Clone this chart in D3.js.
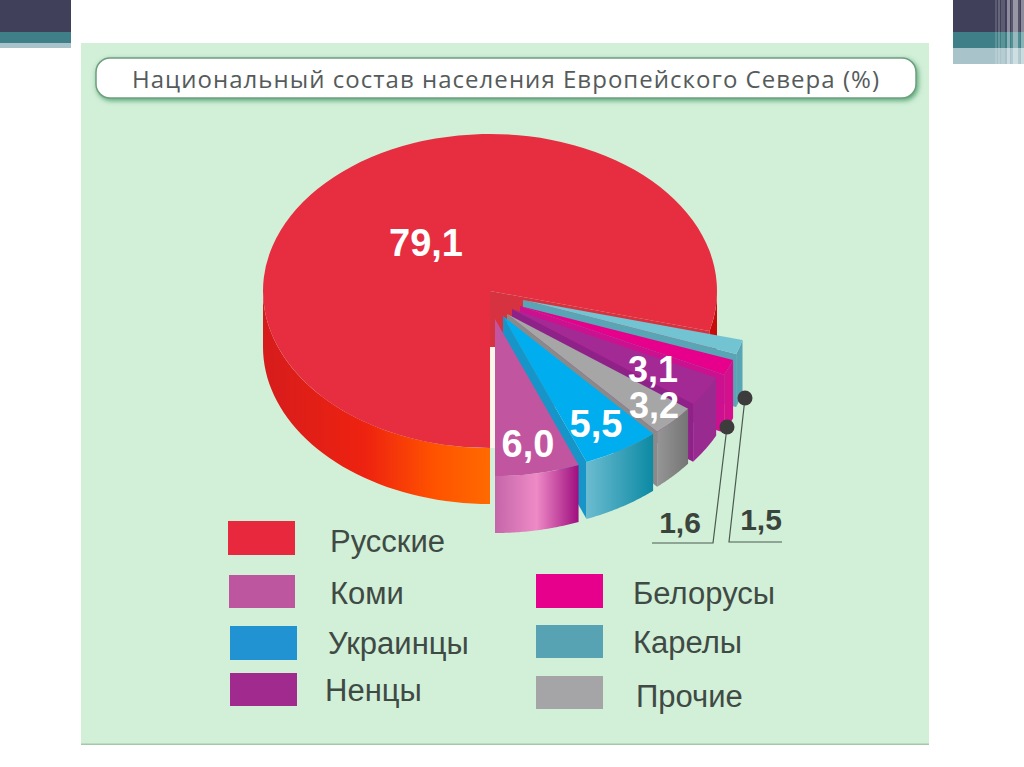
<!DOCTYPE html>
<html><head><meta charset="utf-8">
<script src="https://cdn.jsdelivr.net/npm/d3@7/dist/d3.min.js"></script>
<style>html,body{margin:0;padding:0;background:#fff;overflow:hidden}svg{display:block}</style>
</head><body><svg id="c" width="1024" height="767"></svg>
<script>
const titleText = "Национальный состав населения Европейского Севера (%)";
const categories = ["Русские","Карелы","Белорусы","Ненцы","Прочие","Украинцы","Коми"];
const values = [79.1,1.5,1.6,3.1,3.2,5.5,6.0];
const valueLabels = ["79,1","1,5","1,6","3,1","3,2","5,5","6,0"];

const topColors = ["#e62e40","#72c4d2","#e6008c","#a32a94","#a6a6a6","#00aeef","#c2559f"];
const wallColors = ["#d6323f","#5aa5b5","#cc1090","#8f2288","#8a8a8a","#1795c9","#c2559f"];
const legendColors = {"Русские":"#e8283c","Коми":"#bd559f","Украинцы":"#2293d2","Ненцы":"#a02a8e","Белорусы":"#e6008c","Карелы":"#57a3b4","Прочие":"#a5a5a8"};
// layout: explode offsets of each slice's apex from the pie centre
const explode = [[0,0],[33,9],[30,15],[22,18],[17,23],[13,25],[5,28]];
const depths = [56,53,58,58,55,57,57];
const labelPos = [[426,256,38],[761,530,30],[680,533,30],[653,382,36],[654,418,36],[596,437,38],[528,457,38]];
const legendLayout = [
 {n:"Русские",x:228,y:521,w:67,h:34,tx:330,ty:552},
 {n:"Коми",x:229,y:575,w:66,h:33,tx:330,ty:604},
 {n:"Украинцы",x:230,y:626,w:67,h:34,tx:328,ty:654},
 {n:"Ненцы",x:230,y:673,w:67,h:33,tx:325,ty:701},
 {n:"Белорусы",x:536,y:574,w:67,h:34,tx:633,ty:604},
 {n:"Карелы",x:536,y:625,w:67,h:33,tx:633,ty:653},
 {n:"Прочие",x:536,y:676,w:67,h:33,tx:636,ty:707}];
const cornerBands = [{y:0,h:32,c:"#40405a"},{y:32,h:11,c:"#3f8088"},{y:43,h:5,c:"#a8c4ca"}];
const rightBands = [{y:0,h:32,c:"#40405a"},{y:32,h:16,c:"#3f8088"},{y:48,h:16,c:"#a8c4ca"}];
const stripes = [[995,2,.15],[998,2,.2],[1001,4,.15],[1007,3,.4],[1011,2,.12],[1013,5,.45],[1018,2,.1],[1021,3,.4]];

const svg = d3.select("#c");
const defs = svg.append("defs");
const cx=490, cy=291, R=227, RY=157;

// ---- frame
svg.append("rect").attr("x",81).attr("y",43).attr("width",848).attr("height",702).attr("fill","#d2efd8");
svg.append("rect").attr("x",81).attr("y",743.5).attr("width",848).attr("height",1.5).attr("fill","#a5c8aa");
cornerBands.forEach(b=>svg.append("rect").attr("x",0).attr("y",b.y).attr("width",71).attr("height",b.h).attr("fill",b.c));
rightBands.forEach(b=>svg.append("rect").attr("x",953).attr("y",b.y).attr("width",71).attr("height",b.h).attr("fill",b.c));
svg.selectAll("rect.st").data(stripes).join("rect").attr("class","st")
  .attr("x",d=>d[0]).attr("y",0).attr("width",d=>d[1]).attr("height",64).attr("fill","#fff").attr("opacity",d=>d[2]);

// ---- title
const fl = defs.append("filter").attr("id","sh").attr("x","-5%").attr("y","-30%").attr("width","110%").attr("height","170%");
fl.append("feDropShadow").attr("dx",1.5).attr("dy",2).attr("stdDeviation",2.5).attr("flood-color","#3f9a62").attr("flood-opacity",.85);
svg.append("rect").attr("x",96).attr("y",58).attr("width",820).attr("height",40).attr("rx",14)
  .attr("fill","#fff").attr("stroke","#6f9f80").attr("stroke-width",1.5).attr("filter","url(#sh)");
svg.append("text").attr("x",132).attr("y",88).attr("font-family","Open Sans").attr("font-size",24).attr("fill","#555b5b")
  .attr("textLength",747).attr("lengthAdjust","spacing").text(titleText);

// ---- pie
const pie = d3.pie().sort(null).startAngle(Math.PI).endAngle(3*Math.PI);
const arcs = pie(values);
const arcGen = d3.arc().innerRadius(0).outerRadius(R);
const ptx = (a,o)=>cx+o[0]+R*Math.sin(a);
const pty = (a,o,d)=>cy+o[1]-RY*Math.cos(a)+d;
const line = d3.line();

function rimBand(a0,a1,o,dep){
  const n=40, as=d3.range(n+1).map(i=>a0+(a1-a0)*i/n);
  const top=as.map(a=>[ptx(a,o),pty(a,o,0)]);
  const bot=as.slice().reverse().map(a=>[ptx(a,o),pty(a,o,dep)]);
  return line(top.concat(bot))+"Z";
}
function wall(a,o,dep){
  const ax=cx+o[0], ay=cy+o[1];
  return line([[ax,ay],[ptx(a,o),pty(a,o,0)],[ptx(a,o),pty(a,o,dep)],[ax,ay+dep]])+"Z";
}
function grad(id,x1,x2,stops){
  const g=defs.append("linearGradient").attr("id",id).attr("gradientUnits","userSpaceOnUse")
    .attr("x1",x1).attr("x2",x2).attr("y1",0).attr("y2",0);
  stops.forEach(s=>g.append("stop").attr("offset",s[0]).attr("stop-color",s[1]));
  return `url(#${id})`;
}
const sideFills = [
  grad("g0",263,490,[[0,"#d61c1c"],[.45,"#ee2210"],[.75,"#ff5200"],[1,"#ff6a00"]]),
  "#5aa5b5","#d4108c","#992a90",
  grad("g4",653,689,[[0,"#9a9a9a"],[1,"#747474"]]),
  grad("g5",586,653,[[0,"#6cbcd0"],[1,"#0c8aa4"]]),
  grad("g6",495,578,[[0,"#c566aa"],[.5,"#ee8ac6"],[1,"#a01080"]])
];

// main body: visible front rim, then its inner wall, then top face
const main = arcs[0], mo = explode[0];
svg.append("path").attr("d",rimBand(main.startAngle,1.5*Math.PI,mo,depths[0])).attr("fill",sideFills[0]);
svg.append("path").attr("d",rimBand(2.5*Math.PI,main.endAngle,mo,depths[0])).attr("fill","#c80c0c");
svg.append("path").attr("d",arcGen(main)).attr("fill",topColors[0])
  .attr("transform",`translate(${cx},${cy}) scale(1,${RY/R})`);
svg.append("path").attr("d",wall(main.endAngle,mo,depths[0])).attr("fill",wallColors[0]);
// pale inner edge in the gap
svg.append("path").attr("d",line([[cx+2.5,cy+depths[0]],[cx+2.5,cy+RY]])).attr("stroke","#fbf6e8").attr("stroke-width",5);

// exploded slices, back to front
arcs.slice(1).forEach((d,k)=>{
  const i=k+1,o=explode[i],dep=depths[i];
  const g=svg.append("g");
  g.append("path").attr("d",wall(d.endAngle,o,dep)).attr("fill",wallColors[i]);
  g.append("path").attr("d",rimBand(d.startAngle,d.endAngle,o,dep)).attr("fill",sideFills[i]);
  g.append("path").attr("d",arcGen(d)).attr("fill",topColors[i])
    .attr("transform",`translate(${cx+o[0]},${cy+o[1]}) scale(1,${RY/R})`);
});

// ---- value labels
valueLabels.forEach((t,i)=>{
  const p=labelPos[i], small=i===1||i===2;
  svg.append("text").attr("x",p[0]).attr("y",p[1]).attr("text-anchor","middle")
    .attr("font-family","Liberation Sans").attr("font-weight","bold").attr("font-size",p[2])
    .attr("fill",small?"#3a433c":"#fff").text(t);
});

// ---- leaders
const leaders=[[[745,398],[729,542],[782,542]],[[727,427],[713,543],[652,543]]];
leaders.forEach(l=>{
  svg.append("path").attr("d",line(l)).attr("fill","none").attr("stroke","#4a5a50").attr("stroke-width",1.2);
  svg.append("circle").attr("cx",l[0][0]).attr("cy",l[0][1]).attr("r",7.5).attr("fill","#3c3c3c");
});

// ---- legend
legendLayout.forEach(l=>{
  svg.append("rect").attr("x",l.x).attr("y",l.y).attr("width",l.w).attr("height",l.h).attr("fill",legendColors[l.n]);
  svg.append("text").attr("x",l.tx).attr("y",l.ty).attr("font-family","Liberation Sans").attr("font-size",31)
    .attr("fill","#3f4a44").text(l.n);
});
</script></body></html>
